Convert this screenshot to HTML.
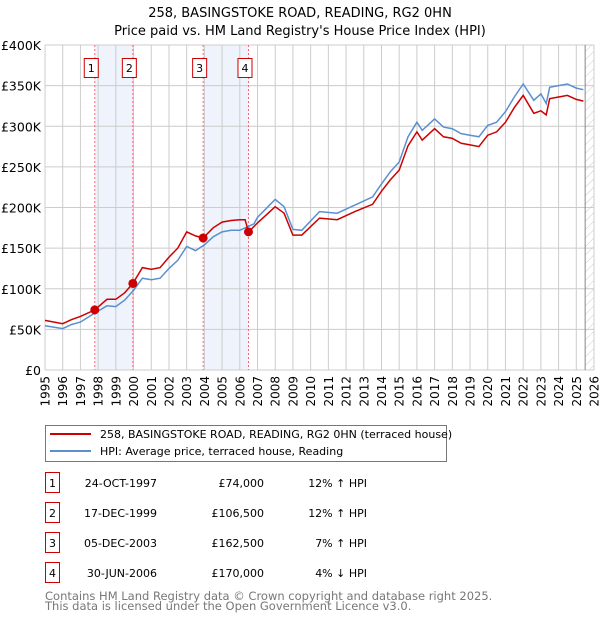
<!DOCTYPE html>
<html><head><meta charset="utf-8"><style>
body{margin:0;background:#fff;font-family:"DejaVu Sans","Liberation Sans",sans-serif;}
svg text{font-family:"DejaVu Sans","Liberation Sans",sans-serif;}
</style></head><body>
<svg id="chart" width="600" height="620" viewBox="0 0 600 620" xmlns="http://www.w3.org/2000/svg">
<defs><pattern id="hatch" width="6" height="6" patternUnits="userSpaceOnUse" patternTransform="rotate(45)"><line x1="0" y1="0" x2="0" y2="6" stroke="#ccc" stroke-width="1"/></pattern></defs>
<text x="300" y="17" font-size="13" text-anchor="middle">258, BASINGSTOKE ROAD, READING, RG2 0HN</text>
<text x="300" y="35" font-size="13" text-anchor="middle">Price paid vs. HM Land Registry's House Price Index (HPI)</text>
<g id="bands"></g><g id="grid"></g><g id="axes"></g><g id="series"></g><g id="markers"></g>
<g>
<rect x="45.5" y="425.5" width="401" height="36" fill="#fff" stroke="#777"/>
<line x1="50" y1="434" x2="91" y2="434" stroke="#cc0000" stroke-width="2"/>
<text x="100" y="438" font-size="11">258, BASINGSTOKE ROAD, READING, RG2 0HN (terraced house)</text>
<line x1="50" y1="451" x2="91" y2="451" stroke="#5b8fd0" stroke-width="2"/>
<text x="100" y="455" font-size="11">HPI: Average price, terraced house, Reading</text>
</g>
<g id="table" font-size="11"></g>
<text x="45" y="600" font-size="11.5" fill="#777">Contains HM Land Registry data © Crown copyright and database right 2025.</text>
<text x="45" y="610" font-size="11.5" fill="#777">This data is licensed under the Open Government Licence v3.0.</text>
</svg>
<script>
const hpiYears=[1995,1996,1996.5,1997,1997.8,1998.5,1999,1999.5,2000,2000.5,2001,2001.5,2002,2002.5,2003,2003.5,2004,2004.5,2005,2005.5,2006,2006.8,2007,2007.5,2008,2008.5,2009,2009.5,2010.5,2011.5,2012.5,2013.5,2014,2014.5,2015,2015.5,2016,2016.3,2016.5,2017,2017.5,2018,2018.5,2019,2019.5,2020,2020.5,2021,2021.5,2022,2022.6,2023,2023.3,2023.5,2024,2024.5,2025,2025.4];
const hpiValues=[54.5,51,56,59,70,79,78,86,98,113,111,113,125,135,152,147,154,164,170,172,172,180,188,199,210,201,173,172,195,193,203,213,229,244,256,287,305,295,299,309,299,297,291,289,287,301,305,318,336,352,332,340,328,348,350,352,347,345];
const ppYears=[1995,1996,1996.5,1997,1997.81,1998.5,1999,1999.5,1999.96,2000.5,2001,2001.5,2002,2002.5,2003,2003.5,2003.93,2004.5,2005,2005.5,2006,2006.3,2006.49,2007,2007.5,2008,2008.5,2009,2009.5,2010.5,2011.5,2012.5,2013.5,2014,2014.5,2015,2015.5,2016,2016.3,2016.5,2017,2017.5,2018,2018.5,2019,2019.5,2020,2020.5,2021,2021.5,2022,2022.6,2023,2023.3,2023.5,2024,2024.5,2025,2025.4];
const ppValues=[61,57,62,66,74,87,87,95,106.5,126,124,126,139,150,170,165,162.5,175,182,184,185,185,170,181,191,201,193,166,166,187,185,195,204,220,234,246,276,293,283,287,297,287,285,279,277,275,289,293,305,323,338,316,319,314,334,336,338,333,331];
const saleLabels=["1","2","3","4"];
const saleYears=[1997.81,1999.96,2003.93,2006.49];
const salePrices=[74,106.5,162.5,170];
const saleDates=["24-OCT-1997","17-DEC-1999","05-DEC-2003","30-JUN-2006"];
const salePriceText=["£74,000","£106,500","£162,500","£170,000"];
const saleHpiText=["12% ↑ HPI","12% ↑ HPI","7% ↑ HPI","4% ↓ HPI"];
const yTicks=[0,50,100,150,200,250,300,350,400];
const yTickLabels=["£0","£50K","£100K","£150K","£200K","£250K","£300K","£350K","£400K"];
const xTicks=[1995,1996,1997,1998,1999,2000,2001,2002,2003,2004,2005,2006,2007,2008,2009,2010,2011,2012,2013,2014,2015,2016,2017,2018,2019,2020,2021,2022,2023,2024,2025,2026];
const hatchStart=2025.5;

const X0=45,X1=594,Y0=370,Y1=45;
const xs=y=>X0+(y-1995)/(2026-1995)*(X1-X0);
const ys=v=>Y0-v/400*(Y0-Y1);
const NS="http://www.w3.org/2000/svg";
function mk(tag,attrs,parent){const e=document.createElementNS(NS,tag);for(const k in attrs)e.setAttribute(k,attrs[k]);parent.appendChild(e);return e;}
const bands=document.getElementById('bands'),grid=document.getElementById('grid'),axes=document.getElementById('axes'),series=document.getElementById('series'),markers=document.getElementById('markers'),table=document.getElementById('table');

mk('rect',{x:X0,y:Y1,width:X1-X0,height:Y0-Y1,fill:'#fff'},bands);
for(const i of [0,2]){
  const b=mk('rect',{x:xs(saleYears[i]),y:Y1,width:xs(saleYears[i+1])-xs(saleYears[i]),height:Y0-Y1,fill:'#eef3fc'},bands);
  
  
}
const h=mk('rect',{x:xs(hatchStart),y:Y1,width:X1-xs(hatchStart),height:Y0-Y1,fill:'url(#hatch)'},bands);



xTicks.forEach(t=>{
  mk('line',{x1:xs(t),y1:Y1,x2:xs(t),y2:Y0,stroke:'#ccc','stroke-width':1},grid);
  const px=xs(t)+4.5,py=376;
  const tx=mk('text',{x:px,y:py,'font-size':12,'text-anchor':'end',transform:'rotate(-90 '+px+' '+py+')'},axes);
  tx.textContent=t;
  
  
});
yTicks.forEach((t,i)=>{
  mk('line',{x1:X0,y1:ys(t),x2:X1,y2:ys(t),stroke:'#ccc','stroke-width':1},grid);
  const tx=mk('text',{x:41,y:ys(t)+5,'font-size':12.5,'text-anchor':'end'},axes);
  tx.textContent=yTickLabels[i];
  
  
});
mk('line',{x1:xs(hatchStart),y1:Y1,x2:xs(hatchStart),y2:Y0,stroke:'#888','stroke-width':1},grid);

saleYears.forEach((y,i)=>{
  const l=mk('line',{x1:xs(y),y1:Y1,x2:xs(y),y2:Y0,stroke:'#ff6677','stroke-width':1,'stroke-dasharray':'2,2'},grid);
  
  
  const g=mk('g',{},markers);
  
  
  mk('rect',{x:xs(y)-10.5,y:58.5,width:14,height:19,fill:'#fff',stroke:'#cc0000'},g);
  const t=mk('text',{x:xs(y)-3.5,y:72,'font-size':11,'text-anchor':'middle'},g);
  t.textContent=saleLabels[i];
});

function path(xa,va){return xa.map((y,i)=>(i?'L':'M')+xs(y).toFixed(1)+','+ys(va[i]).toFixed(1)).join('');}
const hp=mk('path',{d:path(hpiYears,hpiValues),fill:'none',stroke:'#5b8fd0','stroke-width':1.5},series);


const pp=mk('path',{d:path(ppYears,ppValues),fill:'none',stroke:'#cc0000','stroke-width':1.5},series);


saleYears.forEach((y,i)=>{
  const c=mk('circle',{cx:xs(y),cy:ys(salePrices[i]),r:4.5,fill:'#cc0000'},markers);
  
  
});

saleLabels.forEach((s,i)=>{
  const cy=483+i*30;
  const g=mk('g',{},table);
  
  
  mk('rect',{x:45.5,y:cy-10.5,width:14,height:20,fill:'#fff',stroke:'#cc0000'},g);
  const a=mk('text',{x:52.5,y:cy+4,'text-anchor':'middle'},g);a.textContent=s;
  const b=mk('text',{x:157,y:cy+4,'text-anchor':'end'},g);b.textContent=saleDates[i];
  const c=mk('text',{x:264,y:cy+4,'text-anchor':'end'},g);c.textContent=salePriceText[i];
  const d=mk('text',{x:367,y:cy+4,'text-anchor':'end'},g);d.textContent=saleHpiText[i];
});
</script>
</body></html>
